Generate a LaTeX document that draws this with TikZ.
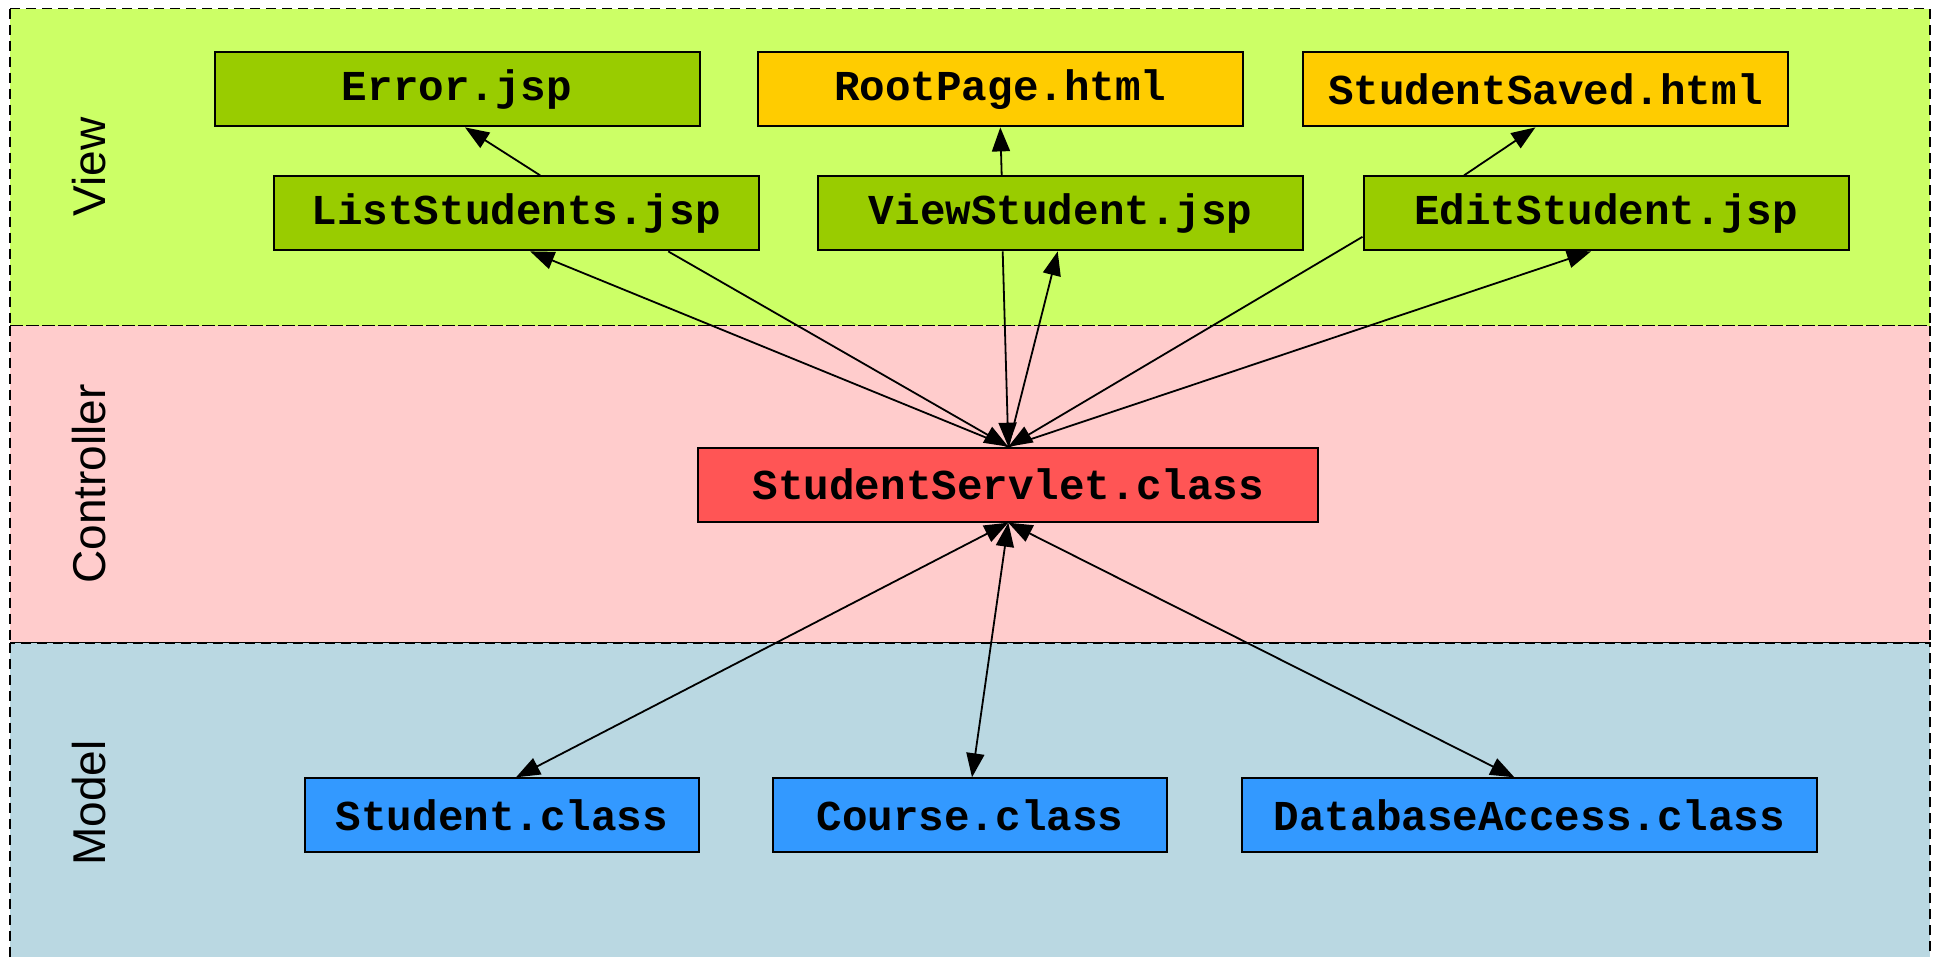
\documentclass[tikz,border=0pt]{standalone}
\usepackage{fontspec}
\setmainfont{Liberation Sans}
\newfontfamily\codefont{Liberation Mono}
\usetikzlibrary{arrows.meta,calc}
\definecolor{viewbg}{HTML}{CCFF66}
\definecolor{ctrlbg}{HTML}{FFCCCC}
\definecolor{modelbg}{HTML}{BAD8E2}
\definecolor{jspfill}{HTML}{99CC00}
\definecolor{htmlfill}{HTML}{FFCC00}
\definecolor{servletfill}{HTML}{FF5555}
\definecolor{classfill}{HTML}{3399FF}
\tikzset{
  band/.style={draw=black, dash pattern=on 5pt off 3pt, line width=0.9pt},
  layerlabel/.style={rotate=90, font=\fontsize{23}{27}\selectfont, inner sep=0pt},
  filebox/.style={draw=black, line width=1pt, inner sep=0pt,
    minimum height=37pt, minimum width=242.5pt,
    font=\codefont\bfseries\fontsize{21.3}{25}\selectfont},
  jsp/.style={filebox, fill=jspfill},
  html/.style={filebox, fill=htmlfill},
  servlet/.style={filebox, fill=servletfill, minimum width=310pt},
  cls/.style={filebox, fill=classfill},
  link/.style={line width=0.9pt, -{Triangle[length=12pt,width=9pt]}},
  dlink/.style={line width=0.9pt, {Triangle[length=12pt,width=9pt]}-{Triangle[length=12pt,width=9pt]}}
}
\begin{document}
\begin{tikzpicture}[x=0.5pt, y=-0.5pt]
  \clip (0,0) rectangle (1934,957);
  % layer bands
  \fill[white] (0,0) rectangle (1934,957);
  \draw[band, fill=viewbg] (10,8.6) rectangle (1930,325.6);
  \draw[band, fill=ctrlbg] (10,325.6) rectangle (1930,642.6);
  \draw[band, fill=modelbg] (10,642.6) rectangle (1930,965);
  \node[layerlabel] (lview) at (89,167) {View};
  \node[layerlabel] (lctrl) at (89,484) {Controller};
  \node[layerlabel] (lmodel) at (89,803) {Model};

  % view pages
  \node[jsp]  (err) at (457,89.4)    {Error.jsp};
  \node[html] (rp)  at (1000.3,89.4) {RootPage.html};
  \node[html] (sv)  at (1545.4,89.4) {StudentSaved.html};
  \node[jsp]  (ls)  at (516.2,213.4) {ListStudents.jsp};
  \node[jsp]  (vs)  at (1060.7,213.4) {ViewStudent.jsp};
  \node[jsp]  (es)  at (1606,213.4)  {EditStudent.jsp};

  % controller
  \node[servlet] (ss) at (1008.3,484.7) {StudentServlet.class};

  % model classes
  \node[cls, minimum width=197.4pt] (st) at (502,815.3)   {Student.class};
  \node[cls, minimum width=196.8pt] (co) at (970,815.3)   {Course.class};
  \node[cls, minimum width=287.4pt] (da) at (1529.4,815.3) {DatabaseAccess.class};

  % page-to-page links
  \draw[link] ($(ls.north)+(24,0)$) -- ($(err.south)+(8,0)$);
  \draw[link] ($(vs.north)+(-59,0)$) -- (rp.south);
  \draw[link] ($(es.north)+(-142,0)$) -- ($(sv.south)+(-10,0)$);

  % servlet <-> views
  \draw[link] (ss.north) -- ($(ls.south)+(14,0)$);
  \draw[link] ($(ls.south)+(152,0)$) -- (ss.north);
  \draw[link] ($(vs.south)+(-58,0)$) -- (ss.north);
  \draw[link] (ss.north) -- ($(vs.south)+(-3,0)$);
  \draw[link] ($(es.west)+(0,23.4)$) -- (ss.north);
  \draw[link] (ss.north) -- ($(es.south)+(-15,0)$);

  % servlet <-> model
  \draw[dlink] (ss.south) -- ($(st.north)+(14,0)$);
  \draw[dlink] (ss.south) -- ($(co.north)+(2,0)$);
  \draw[dlink] (ss.south) -- ($(da.north)+(-15,0)$);
\end{tikzpicture}
\end{document}
